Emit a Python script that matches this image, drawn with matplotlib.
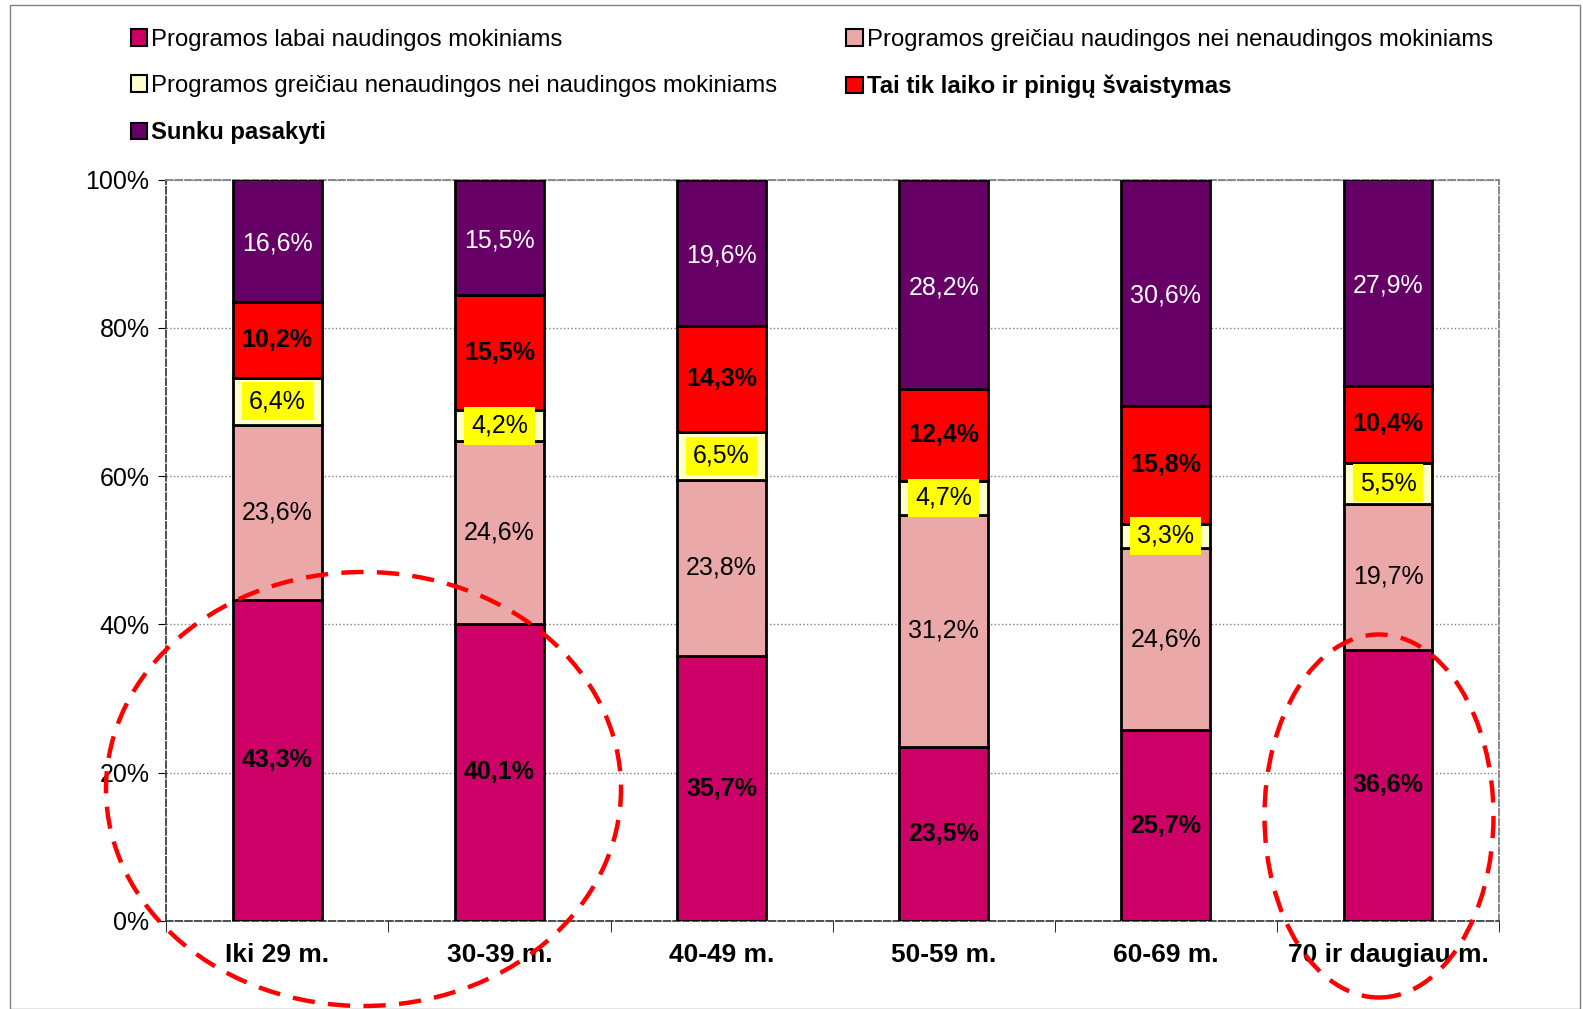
import numpy as np
import matplotlib.pyplot as plt
from matplotlib.patches import Ellipse, Rectangle, Patch

plt.rcParams['font.family'] = ['Liberation Sans', 'DejaVu Sans']

groups = ['Iki 29 m.', '30-39 m.', '40-49 m.', '50-59 m.', '60-69 m.', '70 ir daugiau m.']
labai = [43.3, 40.1, 35.7, 23.5, 25.7, 36.6]
greiciau_naud = [23.6, 24.6, 23.8, 31.2, 24.6, 19.7]
greiciau_nenaud = [6.4, 4.2, 6.5, 4.7, 3.3, 5.5]
svaistymas = [10.2, 15.5, 14.3, 12.4, 15.8, 10.4]
sunku = [16.6, 15.5, 19.6, 28.2, 30.6, 27.9]

series = [
    ('Programos labai naudingos mokiniams', labai, '#CC0066'),
    ('Programos greičiau naudingos nei nenaudingos mokiniams', greiciau_naud, '#EAA8A8'),
    ('Programos greičiau nenaudingos nei naudingos mokiniams', greiciau_nenaud, '#FFFFCC'),
    ('Tai tik laiko ir pinigų švaistymas', svaistymas, '#FF0000'),
    ('Sunku pasakyti', sunku, '#660066'),
]

fig = plt.figure(figsize=(15.83, 10.09), dpi=100)
ax = fig.add_axes([0.105, 0.0874, 0.842, 0.7346])

x = np.arange(len(groups))
bottom = np.zeros(len(groups))
for i, (name, vals, col) in enumerate(series):
    vals = np.array(vals)
    ax.bar(x, vals, 0.4, bottom=bottom, color=col, edgecolor='black', linewidth=2, zorder=3)
    for xi, b, v in zip(x, bottom, vals):
        yc = b + v / 2
        txt = f'{v:.1f}%'.replace('.', ',')
        if i == 0 or i == 3:
            ax.text(xi, yc, txt, ha='center', va='center', fontsize=18, fontweight='bold', zorder=4)
        elif i == 1:
            ax.text(xi, yc, txt, ha='center', va='center', fontsize=18, zorder=4)
        elif i == 2:
            ax.text(xi, yc, txt, ha='center', va='center', fontsize=18, zorder=4,
                    bbox=dict(facecolor='#FFFF00', edgecolor='none', pad=5))
        else:
            ax.text(xi, yc - 0.4, txt, ha='center', va='center', fontsize=18, color='white', zorder=4)
    bottom += vals

ax.set_xlim(-0.5, len(groups) - 0.5)
ax.set_ylim(0, 100)
ax.set_yticks([0, 20, 40, 60, 80, 100])
ax.set_yticklabels([f'{v}%' for v in range(0, 101, 20)], fontsize=18)
ax.set_xticks(x)
ax.set_xticklabels(groups, fontsize=19, fontweight='bold')
ax.tick_params(axis='x', length=0, pad=16)
ax.set_xticks(np.arange(len(groups) + 1) - 0.5, minor=True)
ax.tick_params(axis='x', which='minor', length=8, direction='out')
ax.tick_params(axis='y', length=6, direction='out', pad=6)
ax.yaxis.grid(True, linestyle=':', color='#808080', linewidth=1, zorder=0)
for s in ax.spines.values():
    s.set_linestyle('--')
    s.set_color('#808080')
    s.set_linewidth(1.3)
ax.spines['bottom'].set_color('#404040')
ax.spines['left'].set_color('#404040')

handles = [Patch(facecolor=c, edgecolor='black', linewidth=1.5) for _, _, c in series]
names = [n for n, _, _ in series]
order = [0, 2, 4, 1, 3]
leg = fig.legend([handles[k] for k in order], [names[k] for k in order], ncol=2,
                 loc='upper left', bbox_to_anchor=(0.069, 0.993), frameon=False, fontsize=17.2,
                 handlelength=0.7, handleheight=0.7, handletextpad=0.15, labelspacing=1.02,
                 columnspacing=2.9)
for t in leg.get_texts():
    if t.get_text() in ('Tai tik laiko ir pinigų švaistymas', 'Sunku pasakyti'):
        t.set_fontweight('bold')

W, H = 1583, 1009
for cx, cy, w, h in [(363.5, 789, 515, 434), (1379, 816, 229, 363)]:
    e = Ellipse((cx / W, 1 - cy / H), w / W, h / H, transform=fig.transFigure,
                fill=False, edgecolor='#FF0000', linewidth=3.2, linestyle=(0, (5, 3)),
                clip_on=False, zorder=10)
    fig.patches.append(e)

fig.patches.append(Rectangle((10 / W, 0.0), 1570 / W, 1 - 5 / H, transform=fig.transFigure,
                             fill=False, edgecolor='#808080', linewidth=1))

fig.savefig('out.png', dpi=100)
